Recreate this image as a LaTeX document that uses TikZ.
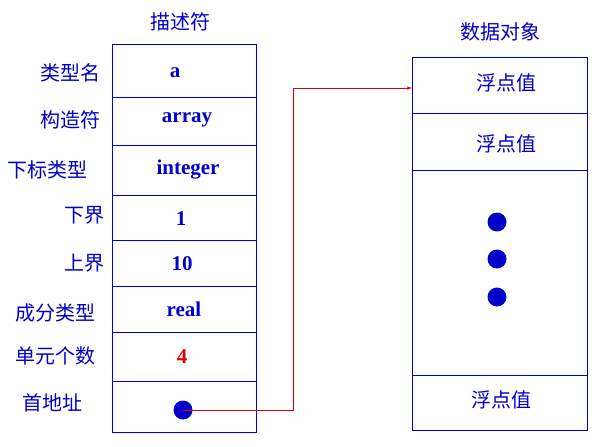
\documentclass[tikz,border=0pt]{standalone}
\usepackage{fontspec}
\setmainfont{Liberation Serif}
\newfontfamily\cjk{Noto Sans CJK SC}
\definecolor{tb}{RGB}{0,0,200}
\definecolor{ar}{RGB}{220,0,0}
\begin{document}
\begin{tikzpicture}[x=1pt,y=-1pt,
  lab/.style={text=tb,font=\cjk\fontsize{20}{20}\selectfont,inner sep=0},
  val/.style={text=tb,font=\bfseries\fontsize{21}{21}\selectfont,inner sep=0},
  box/.style={draw=tb,line width=0.6pt}]
\useasboundingbox (0,0) rectangle (605,447);
\node[lab] (t1) at (180,22) {描述符};
\node[lab] (t2) at (500,32) {数据对象};
\foreach \a/\b in {44/97,97/145,145/195,195/240,240/286,286/332,332/381,381/432}
  \draw[box] (112,\a) rectangle (256,\b);
\foreach \a/\b in {57/113,113/170,170/375,375/430}
  \draw[box] (412,\a) rectangle (587,\b);
\node[lab] (l1) at (70,73) {类型名};
\node[lab] (l2) at (70,120) {构造符};
\node[lab] (l3) at (48,170) {下标类型};
\node[lab] (l4) at (84,215) {下界};
\node[lab] (l5) at (84,263) {上界};
\node[lab] (l6) at (56,313) {成分类型};
\node[lab] (l7) at (56,356) {单元个数};
\node[lab] (l8) at (53,403) {首地址};
\node[val] (v1) at (175,73) {a};
\node[val] (v2) at (187,120) {array};
\node[val] (v3) at (188,170) {integer};
\node[val] (v4) at (181,219) {1};
\node[val] (v5) at (182,264) {10};
\node[val] (v6) at (184,309) {real};
\node[val,text=ar] (v7) at (182,357) {4};
\node[lab] (r1) at (506,83) {浮点值};
\node[lab] (r2) at (506,144) {浮点值};
\node[lab] (r3) at (501,400) {浮点值};
\foreach \y/\n in {222/d1,259/d2,297/d3}
  \node[circle,fill=tb,inner sep=0,minimum size=19pt] (\n) at (497,\y) {};
\node[circle,fill=tb,inner sep=0,minimum size=19pt] (p) at (183,410) {};
\coordinate (tgt) at (412,88);
\draw[ar,line width=0.6pt,-latex] (p.center) -| (293,88) -- (tgt);
\end{tikzpicture}
\end{document}
